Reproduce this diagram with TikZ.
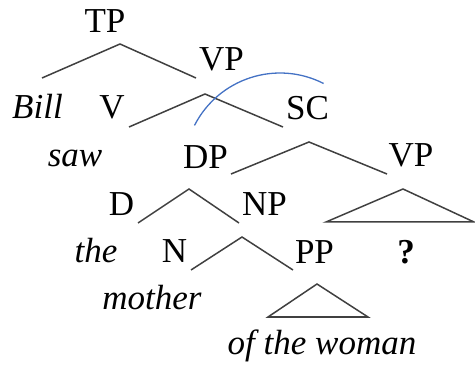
\documentclass[tikz,border=0pt]{standalone}
\usepackage{fontspec}
\setmainfont{Liberation Serif}
\definecolor{treeline}{HTML}{404040}
\definecolor{arcblue}{HTML}{4472C4}
\begin{document}
\begin{tikzpicture}[x=1pt,y=-1pt,
  lab/.style={anchor=base,inner sep=0pt,font=\fontsize{35}{40}\selectfont},
  word/.style={lab,font=\fontsize{35}{40}\selectfont\itshape},
  branch/.style={draw=treeline,line width=1.5pt,line join=miter},
  moveline/.style={draw=arcblue,line width=1.3pt}]
\useasboundingbox (0,0) rectangle (475,369);
% labels
\node[lab] (TP) at (105,33) {TP};
\node[lab] (VPa) at (221.5,71) {VP};
\node[word] (Bill) at (37.5,119) {Bill};
\node[lab] (V) at (112,119) {V};
\node[lab] (SC) at (307.5,120) {SC};
\node[word] (saw) at (75,167) {saw};
\node[lab] (DP) at (205.5,168) {DP};
\node[lab] (VPb) at (411,167) {VP};
\node[lab] (D) at (121.5,216) {D};
\node[lab] (NP) at (264.5,216) {NP};
\node[word] (the) at (96,262) {the};
\node[lab] (N) at (174.5,262) {N};
\node[lab] (PP) at (314.5,263) {PP};
\node[lab,font=\fontsize{35}{40}\selectfont\bfseries] (Q) at (406,263) {?};
\node[word] (mother) at (152,309) {mother};
\node[word] (otw) at (322,355) {of the woman};
% branch points
\coordinate (TPx) at (120,44);
\coordinate (TPl) at (42,78);
\coordinate (TPr) at (196,78);
\coordinate (VPx) at (205,94);
\coordinate (VPl) at (129,127);
\coordinate (VPr) at (283,127);
\coordinate (SCx) at (309,142);
\coordinate (SCl) at (231,174);
\coordinate (SCr) at (387,174);
\coordinate (DPx) at (189,189);
\coordinate (DPl) at (138,223);
\coordinate (DPr) at (239,223);
\coordinate (NPx) at (242,237);
\coordinate (NPl) at (191,270);
\coordinate (NPr) at (293,270);
\coordinate (VTx) at (403,189);
\coordinate (VTl) at (326,222);
\coordinate (VTr) at (474,222);
\coordinate (PTx) at (317,284);
\coordinate (PTl) at (268,317);
\coordinate (PTr) at (368,317);
\coordinate (arcS) at (194.5,125.4);
\coordinate (arcE) at (323.6,83.5);
% branches
\draw[branch] (TPl) -- (TPx) -- (TPr);
\draw[branch] (VPl) -- (VPx) -- (VPr);
\draw[branch] (SCl) -- (SCx) -- (SCr);
\draw[branch] (DPl) -- (DPx) -- (DPr);
\draw[branch] (NPl) -- (NPx) -- (NPr);
\draw[branch] (VTl) -- (VTx) -- (VTr) -- cycle;
\draw[branch] (PTl) -- (PTx) -- (PTr) -- cycle;
% movement arc
\draw[moveline] (arcS) .. controls (218.6,78.2) and (276.4,59.4) .. (arcE);
\end{tikzpicture}
\end{document}
